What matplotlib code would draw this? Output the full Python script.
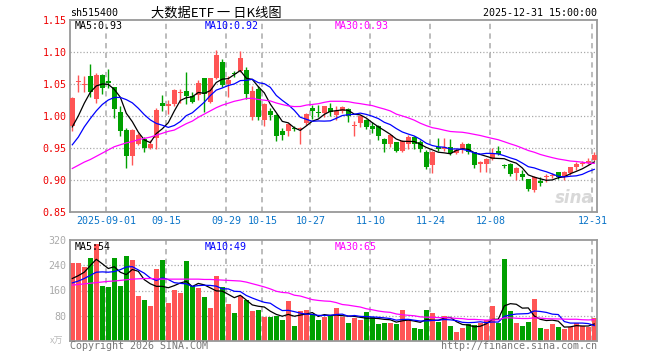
import numpy as np
import pandas as pd
import matplotlib
matplotlib.use("Agg")
import matplotlib.pyplot as plt

W, H, DPI = 660, 360, 100

# ---------------- data ----------------
opens = [0.984, 1.053, 1.048, 1.062, 1.027, 1.064, 1.054, 1.045, 1.007, 0.978,
         0.938, 0.957, 0.964, 0.950, 0.966, 1.021, 1.016, 1.018, 1.036, 1.039,
         1.031, 1.033, 1.059, 1.022, 1.060, 1.085, 1.050, 1.067, 1.071, 1.072,
         0.998, 1.042, 0.994, 1.008, 1.002, 0.977, 0.977, 0.982, 0.979, 0.989,
         1.0125, 1.007, 1.004, 1.012, 1.002, 1.008, 1.011, 0.985, 0.9885, 0.993,
         0.984, 0.984, 0.964, 0.957, 0.959, 0.946, 0.956, 0.967, 0.959, 0.944,
         0.923, 0.951, 0.949, 0.951, 0.942, 0.948, 0.956, 0.943, 0.925, 0.925,
         0.933, 0.945, 0.923, 0.925, 0.9104, 0.909, 0.901, 0.8844, 0.898, 0.904,
         0.906, 0.912, 0.904, 0.9104, 0.921, 0.925, 0.927, 0.932]
closes = [1.028, 1.055, 1.050, 1.038, 1.064, 1.043, 1.052, 1.011, 0.977, 0.938,
          0.978, 0.970, 0.950, 0.956, 1.009, 1.015, 1.018, 1.041, 1.038, 1.031,
          1.022, 1.052, 1.034, 1.059, 1.095, 1.048, 1.056, 1.066, 1.090, 1.035,
          1.039, 0.999, 1.018, 1.002, 0.968, 0.971, 0.9875, 0.979, 0.982, 1.003,
          1.008, 1.004, 1.0156, 1.006, 1.008, 1.0145, 1.000, 0.986, 1.000, 0.983,
          0.979, 0.968, 0.957, 0.970, 0.946, 0.9615, 0.967, 0.956, 0.949, 0.921,
          0.943, 0.948, 0.951, 0.942, 0.947, 0.956, 0.9437, 0.924, 0.9286, 0.933,
          0.9417, 0.941, 0.922, 0.909, 0.918, 0.904, 0.8865, 0.905, 0.896, 0.906,
          0.907, 0.904, 0.912, 0.920, 0.9245, 0.927, 0.930, 0.9396]
highs = [1.029, 1.064, 1.063, 1.082, 1.067, 1.066, 1.073, 1.046, 1.015, 0.982,
         0.979, 0.973, 0.967, 0.962, 1.013, 1.033, 1.025, 1.042, 1.042, 1.069,
         1.037, 1.056, 1.060, 1.060, 1.103, 1.089, 1.062, 1.070, 1.101, 1.076,
         1.047, 1.047, 1.020, 1.012, 1.003, 0.982, 0.989, 0.984, 0.983, 1.004,
         1.017, 1.017, 1.016, 1.020, 1.016, 1.016, 1.012, 0.992, 1.001, 0.995,
         0.990, 0.986, 0.965, 0.971, 0.960, 0.9625, 0.971, 0.968, 0.962, 0.947,
         0.945, 0.965, 0.966, 0.9646, 0.950, 0.959, 0.958, 0.944, 0.929, 0.934,
         0.9495, 0.953, 0.925, 0.927, 0.9198, 0.916, 0.902, 0.906, 0.905, 0.909,
         0.911, 0.913, 0.914, 0.921, 0.928, 0.930, 0.935, 0.943]
lows = [0.977, 1.037, 1.038, 1.030, 1.020, 1.034, 1.043, 0.997, 0.969, 0.919,
        0.924, 0.954, 0.943, 0.949, 0.948, 1.008, 1.003, 1.016, 1.020, 1.018,
        1.020, 1.025, 1.007, 1.020, 1.058, 1.046, 1.030, 1.061, 1.069, 1.026,
        0.994, 0.993, 0.985, 0.994, 0.961, 0.963, 0.968, 0.977, 0.957, 0.986,
        0.996, 0.998, 0.999, 1.000, 0.994, 1.004, 0.991, 0.969, 0.983, 0.980,
        0.973, 0.9625, 0.944, 0.951, 0.944, 0.944, 0.949, 0.949, 0.944, 0.917,
        0.9115, 0.945, 0.945, 0.9396, 0.941, 0.942, 0.941, 0.919, 0.913, 0.913,
        0.932, 0.939, 0.918, 0.906, 0.900, 0.900, 0.883, 0.882, 0.891, 0.897,
        0.903, 0.902, 0.900, 0.908, 0.916, 0.922, 0.925, 0.930]
volumes = [246, 246, 234, 262, 306, 175, 171.5, 262, 175, 268,
           256.6, 142.5, 129.5, 110, 227.5, 256.6, 120, 163, 152, 253,
           175, 169, 140, 104.5, 205, 171.5, 118, 87.5, 142.5, 129.5,
           94, 97, 75.7, 75.7, 79, 65, 126, 46.6, 94, 97,
           86.5, 65, 75.7, 80, 104.8, 75.7, 58.5, 71.4, 65, 90.8,
           75.7, 53, 58.5, 58.5, 53, 97, 65, 42, 39, 97,
           87.5, 61.7, 80, 48.8, 29.4, 42, 53, 51, 58.5, 68,
           110, 58.5, 261, 94, 58.5, 48.8, 61.7, 132.8, 42, 39,
           55, 45.5, 39, 45.5, 58.5, 48.8, 45.5, 71.4]

# moving-average values at the start of the window (history lies before the chart)
ma5_head = [0.983, 1.000, 1.020, 1.037]
ma10_head = [0.955, 0.967, 0.983, 0.996, 1.008, 1.018, 1.025, 1.029, 1.029]
ma30_head = [0.918, 0.923, 0.928, 0.932, 0.937, 0.942, 0.947, 0.952, 0.955, 0.958,
             0.960, 0.963, 0.965, 0.967, 0.970, 0.973, 0.976, 0.978, 0.983, 0.988,
             0.992, 0.998, 1.003, 1.008, 1.013, 1.017, 1.020, 1.023, 1.025]
vol_ma5_head = [198, 207, 218, 239]
vol_ma10_head = [184, 190, 198, 208, 218, 219, 218, 220, 226]
vol_ma30_head = [177, 179, 181, 183, 185, 187, 189, 190, 192, 194,
                 196, 197, 198, 198, 197, 196, 196, 196, 196, 196,
                 196, 196, 195, 195, 194, 193, 192, 191, 190]

date_labels = ["2025-09-01", "09-15", "09-29", "10-15", "10-27",
               "11-10", "11-24", "12-08", "12-31"]
date_index = [6, 16, 26, 32, 40, 50, 60, 70, 87]
price_ticks = [0.85, 0.90, 0.95, 1.00, 1.05, 1.10, 1.15]
vol_ticks = [80, 160, 240, 320]

symbol = "sh515400"
title = "大数据ETF 一 日K线图"
timestamp = "2025-12-31 15:00:00"
price_ma_labels = ["MA5:0.93", "MA10:0.92", "MA30:0.93"]
vol_ma_labels = ["MA5:54", "MA10:49", "MA30:65"]

# ---------------- styling ----------------
RED = "#ff5555"
GREEN = "#00a000"
MA_COLORS = ["#000000", "#0000ff", "#ff00ff"]
GRID = "#aaaaaa"
SPINE = "#999999"
MONO = ["DejaVu Sans Mono", "Noto Sans CJK SC"]
plt.rcParams["font.family"] = MONO


def moving_avg(values, n, head):
    s = pd.Series(values, dtype=float).rolling(n).mean().to_numpy()
    s[: n - 1] = head
    return s


o = np.array(opens); c = np.array(closes)
h = np.array(highs); l = np.array(lows); v = np.array(volumes)
x = np.arange(len(c))
up = c >= o
colors = np.where(up, RED, GREEN)

fig = plt.figure(figsize=(W / DPI, H / DPI), dpi=DPI, facecolor="white")


def px_axes(left, top, right, bottom):
    return fig.add_axes([left / W, 1 - bottom / H, (right - left) / W, (bottom - top) / H])


ax_p = px_axes(70, 20, 597, 212)
ax_v = px_axes(70, 240, 597, 341)
XL = (-0.383, 87.45)

for ax in (ax_p, ax_v):
    ax.set_xlim(*XL)
    for s in ax.spines.values():
        s.set_color(SPINE)
        s.set_linewidth(1.3)
    ax.tick_params(length=0)
    for di in date_index:
        ax.axvline(di - 0.3, color=GRID, lw=1.1, ls=(0, (3.5, 2.8)), zorder=0)

# price panel
ax_p.set_ylim(0.85, 1.15)
for t in price_ticks[1:-1]:
    ax_p.axhline(t, color=GRID, lw=0.9, ls=(0, (1, 1.6)), zorder=0)
ax_p.set_yticks(price_ticks)
ax_p.set_yticklabels([f"{t:.2f}" for t in price_ticks], color="#ee0000", fontsize=7.2)
ax_p.tick_params(axis="y", pad=2.5)
ax_p.set_xticks(np.array(date_index) - 0.3)
ax_p.set_xticklabels(date_labels, color="#0a74c8", fontsize=7.2)
ax_p.tick_params(axis="x", pad=3)

body_h = np.maximum(np.abs(c - o), 0.0016)
ax_p.vlines(x, l, h, colors=colors, lw=1.0, zorder=2)
ax_p.bar(x, body_h, bottom=np.minimum(o, c), width=0.78, color=colors,
         edgecolor="none", zorder=3)

price_mas = [moving_avg(c, 5, ma5_head), moving_avg(c, 10, ma10_head),
             moving_avg(c, 30, ma30_head)]
for ma, col in zip(price_mas, MA_COLORS):
    ax_p.plot(x, ma, color=col, lw=0.9, zorder=4)

for lab, col, px in zip(price_ma_labels, MA_COLORS, [75, 205, 335]):
    fig.text(px / W, 1 - 26 / H, lab, color=col, fontsize=7.2, va="center", ha="left")

# volume panel
ax_v.set_ylim(0, 320)
for t in vol_ticks[:-1]:
    ax_v.axhline(t, color=GRID, lw=0.9, ls=(0, (1, 1.6)), zorder=0)
ax_v.set_yticks(vol_ticks)
ax_v.set_yticklabels([str(t) for t in vol_ticks], color="#aaaaaa", fontsize=7.2)
ax_v.tick_params(axis="y", pad=2.5)
ax_v.set_xticks([])
ax_v.bar(x, v, width=0.82, color=colors, edgecolor="none", zorder=2)
vol_mas = [moving_avg(v, 5, vol_ma5_head), moving_avg(v, 10, vol_ma10_head),
           moving_avg(v, 30, vol_ma30_head)]
for ma, col in zip(vol_mas, MA_COLORS):
    ax_v.plot(x, ma, color=col, lw=0.9, zorder=4)
for lab, col, px in zip(vol_ma_labels, MA_COLORS, [75, 205, 335]):
    fig.text(px / W, 1 - 247 / H, lab, color=col, fontsize=7.2, va="center", ha="left")

# header texts
fig.text(70 / W, 1 - 13 / H, symbol, fontsize=7.2, va="center", ha="left")
fig.text(216 / W, 1 - 13 / H, title, fontsize=9.5, va="center", ha="center",
         family=["Noto Sans CJK SC", "DejaVu Sans"])
fig.text(597 / W, 1 - 13 / H, timestamp, fontsize=7.2, va="center", ha="right")

# footer texts
fig.text(70 / W, 1 - 346 / H, "Copyright 2026 SINA.COM", fontsize=7.2, color="#777777",
         va="center", ha="left")
fig.text(597 / W, 1 - 346 / H, "http://finance.sina.com.cn", fontsize=7.2, color="#777777",
         va="center", ha="right")
fig.text(63 / W, 1 - 341 / H, "x万", fontsize=6.5, color="#bbbbbb", va="center", ha="right",
         family=["Noto Sans CJK SC", "DejaVu Sans"])
fig.text(594 / W, 1 - 198 / H, "sina", fontsize=12, color="#d8d8d8", va="center", ha="right",
         family=["DejaVu Sans"], style="italic", weight="bold")

fig.savefig("out.png", dpi=DPI, facecolor="white")
